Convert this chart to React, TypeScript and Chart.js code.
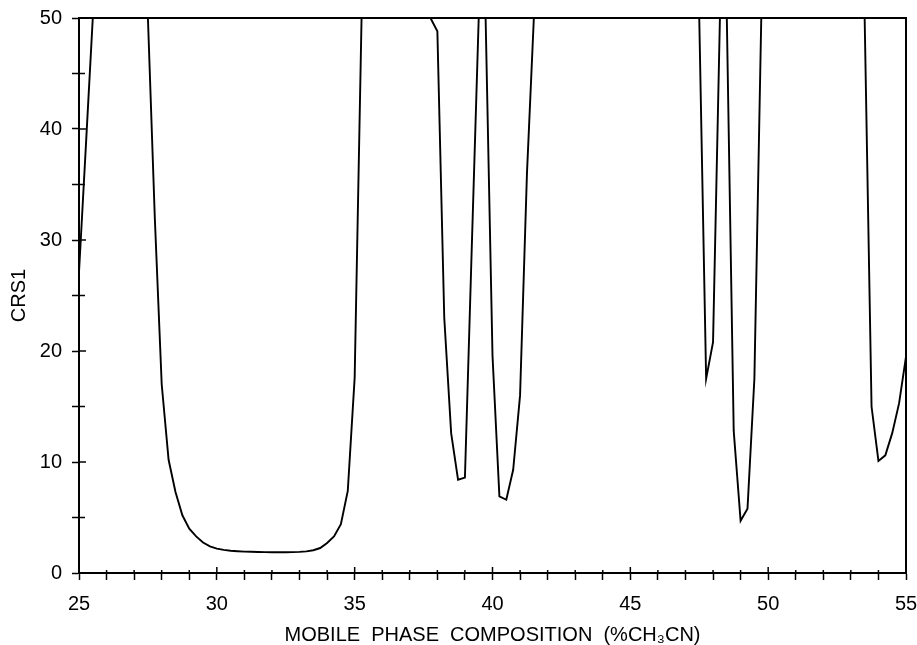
import React, { useEffect, useRef } from "react";
import { Chart, registerables } from "chart.js";

Chart.register(...registerables);

// Mobile phase composition (%CH3CN) sample positions
const xValues = [
  25.0, 25.25, 25.5, 27.5, 27.75, 28.0, 28.25, 28.5, 28.75, 29.0,
  29.25, 29.5, 29.75, 30.0, 30.25, 30.5, 30.75, 31.0, 31.25, 31.5,
  31.75, 32.0, 32.25, 32.5, 32.75, 33.0, 33.25, 33.5, 33.75, 34.0,
  34.25, 34.5, 34.75, 35.0, 35.25, 37.75, 38.0, 38.25, 38.5, 38.75,
  39.0, 39.25, 39.5, 39.75, 40.0, 40.25, 40.5, 40.75, 41.0, 41.25,
  41.5, 47.5, 47.75, 48.0, 48.25, 48.5, 48.75, 49.0, 49.25, 49.5,
  49.75, 53.5, 53.75, 54.0, 54.25, 54.5, 54.75, 55.0,
];

// CRS1 values (clipped at 50)
const crs1Values = [
  27.1, 38.5, 50, 50, 32, 17, 10.2, 7.3, 5.2, 4.0,
  3.3, 2.75, 2.4, 2.2, 2.08, 2.0, 1.96, 1.93, 1.91, 1.89,
  1.88, 1.87, 1.87, 1.87, 1.88, 1.9, 1.95, 2.05, 2.25, 2.7,
  3.3, 4.4, 7.4, 17.6, 50, 50, 48.8, 23.0, 12.6, 8.4,
  8.6, 29.5, 50, 50, 19.6, 6.9, 6.6, 9.3, 16.0, 36,
  50, 50, 17.5, 20.8, 50, 50, 12.8, 4.7, 5.8, 17.5,
  50, 50, 15.0, 10.1, 10.6, 12.6, 15.3, 19.5,
];

const xMajorLabels = [25, 30, 35, 40, 45, 50, 55];
const yMajorLabels = [0, 10, 20, 30, 40, 50];

const xTitle = "MOBILE  PHASE  COMPOSITION  (%CH\u2083CN)";
const yTitle = "CRS1";

const FONT = "'Liberation Sans', Arial, Helvetica, sans-serif";

const framePlugin = {
  id: "frameAndTicks",
  afterDraw(chart: any) {
    const { ctx, chartArea } = chart;
    const { left, right, top, bottom } = chartArea;
    ctx.save();
    ctx.strokeStyle = "#000";
    ctx.lineWidth = 2;
    ctx.beginPath();
    ctx.moveTo(left - 1, top);
    ctx.lineTo(right, top);
    ctx.lineTo(right, bottom);
    ctx.stroke();
    // inward tick parts
    ctx.lineWidth = 1.5;
    const xs = chart.scales.x;
    xs.ticks.forEach((t: any) => {
      const px = xs.getPixelForValue(t.value);
      const major = xMajorLabels.includes(t.value);
      ctx.beginPath();
      ctx.moveTo(px, bottom);
      ctx.lineTo(px, bottom - (major ? 6 : 3));
      ctx.stroke();
    });
    const ys = chart.scales.y;
    ys.ticks.forEach((t: any) => {
      const py = ys.getPixelForValue(t.value);
      const major = yMajorLabels.includes(t.value);
      ctx.beginPath();
      ctx.moveTo(left, py);
      ctx.lineTo(left + (major ? 7 : 6), py);
      ctx.stroke();
    });
    ctx.restore();
  },
};

export default function App() {
  const canvasRef = useRef<HTMLCanvasElement | null>(null);

  useEffect(() => {
    if (!canvasRef.current) return;
    const points = xValues.map((x, i) => ({ x, y: crs1Values[i] }));
    const chart = new Chart(canvasRef.current, {
      type: "line",
      data: {
        datasets: [
          {
            data: points,
            borderColor: "#000",
            borderWidth: 1.9,
            pointRadius: 0,
            tension: 0,
            fill: false,
            clip: 4,
          },
        ],
      },
      options: {
        responsive: false,
        animation: false,
        events: [],
        layout: { padding: { left: 0, right: 11, top: 18, bottom: 0 } },
        plugins: {
          legend: { display: false },
          tooltip: { enabled: false },
        },
        scales: {
          x: {
            type: "linear",
            position: "bottom",
            min: 25,
            max: 55,
            afterFit: (s: any) => {
              s.height = 72;
              s.paddingLeft = 0;
              s.paddingRight = 0;
            },
            ticks: {
              stepSize: 1,
              autoSkip: false,
              maxRotation: 0,
              padding: 12,
              color: "#000",
              font: { family: FONT, size: 20 },
              callback: (v: any) => (xMajorLabels.includes(Number(v)) ? String(v) : ""),
            },
            grid: {
              drawOnChartArea: false,
              drawTicks: true,
              tickLength: 7,
              tickColor: "#000",
              tickWidth: 1.5,
            },
            border: { color: "#000", width: 2 },
            title: {
              display: true,
              text: xTitle,
              color: "#000",
              font: { family: FONT, size: 20, lineHeight: 1.0 },
              padding: { top: 0, bottom: 0 },
            },
          },
          y: {
            type: "linear",
            min: 0,
            max: 50,
            afterFit: (s: any) => {
              s.width = 79;
              s.paddingTop = 0;
              s.paddingBottom = 0;
            },
            ticks: {
              stepSize: 5,
              autoSkip: false,
              padding: 10,
              color: "#000",
              font: { family: FONT, size: 20 },
              callback: (v: any) => (yMajorLabels.includes(Number(v)) ? String(v) : ""),
            },
            grid: {
              drawOnChartArea: false,
              drawTicks: true,
              tickLength: 7,
              tickColor: "#000",
              tickWidth: 1.5,
            },
            border: { color: "#000", width: 2 },
            title: {
              display: true,
              text: yTitle,
              color: "#000",
              font: { family: FONT, size: 20 },
              padding: { top: 7, bottom: 0 },
            },
          },
        },
      },
      plugins: [framePlugin],
    });
    return () => chart.destroy();
  }, []);

  return (
    <div style={{ position: "absolute", left: 0, top: 0, width: 917, height: 645, background: "#fff" }}>
      <canvas ref={canvasRef} width={917} height={645} style={{ display: "block" }} />
    </div>
  );
}
